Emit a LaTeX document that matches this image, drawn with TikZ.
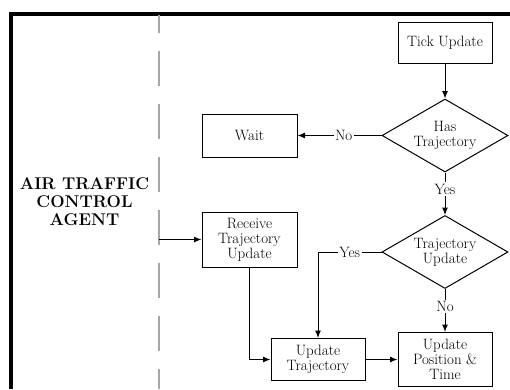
\documentclass[tikz,border=0pt]{standalone}
\usetikzlibrary{arrows.meta,shapes.geometric}
\begin{document}
\begin{tikzpicture}[x=1pt,y=-1pt,
  every node/.style={font=\fontsize{15}{15}\selectfont},
  stepbox/.style={draw,rectangle,line width=1pt,align=center,inner sep=1pt},
  decision/.style={draw,diamond,line width=1pt,align=center,inner sep=0pt,
    minimum width=126pt,minimum height=73pt,aspect=1.72},
  arr/.style={line width=1pt,-{Latex[length=7.5pt,width=6pt]}},
  lbl/.style={fill=white,inner sep=1.5pt},
  lane/.style={draw=black!35,line width=1.4pt,dash pattern=on 35pt off 18pt,dash phase=17pt}]
\useasboundingbox (0,0) rectangle (510,389);
\fill[white] (0,0) rectangle (510,389);

% frame of the swimlane
\draw[line width=3.5pt] (11,389) -- (11,14) -- (510,14);
\draw[lane] (159,15) -- (159,389);

\node[font=\fontsize{17}{18}\selectfont\bfseries,align=center] (agent) at (84.5,201.5)
  {AIR TRAFFIC\\CONTROL\\AGENT};

% process steps
\node[stepbox,minimum width=94pt,minimum height=41pt] (tick) at (445,42.5) {Tick Update};
\node[decision] (has) at (445,135.5) {Has\\Trajectory};
\node[stepbox,minimum width=95pt,minimum height=43pt] (wait) at (249.5,135.5) {Wait};
\node[decision] (traj) at (445,252) {Trajectory\\Update};
\node[stepbox,minimum width=95pt,minimum height=55pt] (recv) at (249.5,239.5) {Receive\\Trajectory\\Update};
\node[stepbox,minimum width=94pt,minimum height=42pt] (utraj) at (318,359.5) {Update\\Trajectory};
\node[stepbox,minimum width=94pt,minimum height=54pt] (upos) at (445,359.5) {Update\\Position \&\\Time};
\coordinate (lanein) at (159,239.5);

% connectors
\draw[arr] (tick.south) -- (has.north);
\draw[arr] (has.west) -- node[lbl,pos=0.45] {No} (wait.east);
\draw[arr] (has.south) -- node[lbl,pos=0.39] {Yes} (traj.north);
\draw[arr] (traj.south) -- node[lbl,pos=0.4] {No} (upos.north);
\draw[arr] (traj.west) -- node[lbl] {Yes} (traj.west -| utraj.north) -- (utraj.north);
\draw[arr] (lanein) -- (recv.west);
\draw[arr] (recv.south) |- (utraj.west);
\draw[arr] (utraj.east) -- (upos.west);
\end{tikzpicture}
\end{document}
